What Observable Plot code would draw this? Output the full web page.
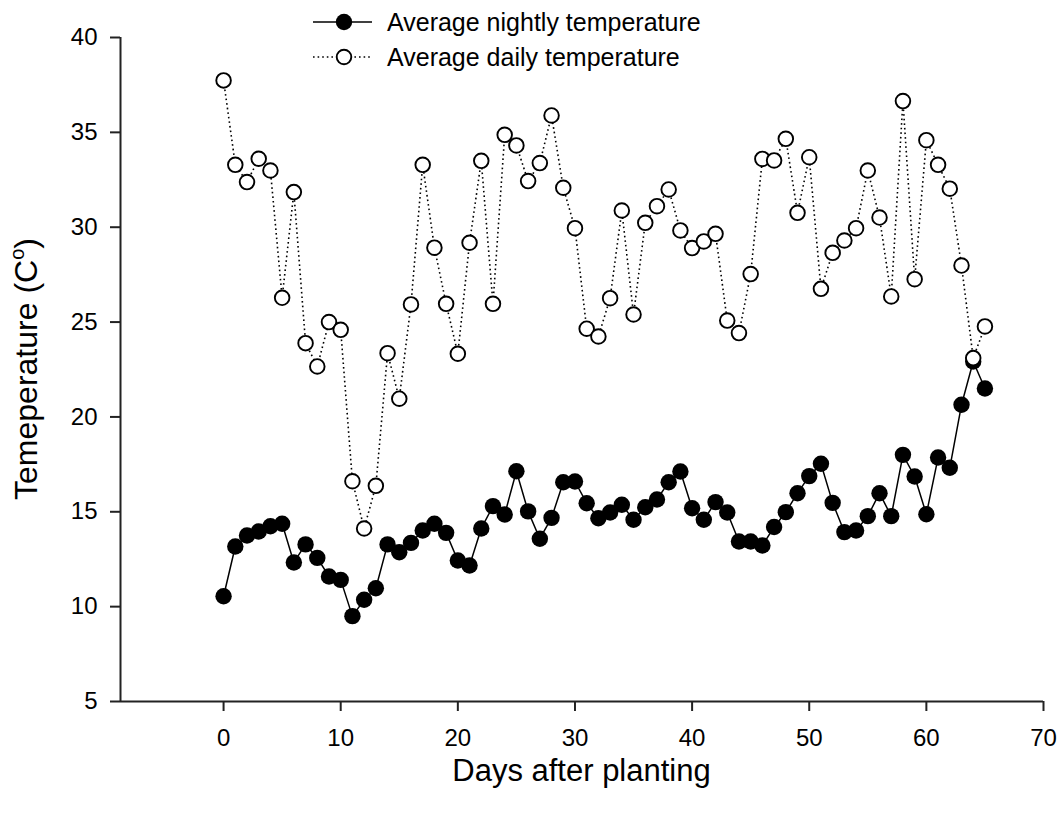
<!DOCTYPE html>
<html>
<head>
<meta charset="utf-8">
<script src="https://cdn.jsdelivr.net/npm/d3@7"></script>
<script src="https://cdn.jsdelivr.net/npm/@observablehq/plot@0.6"></script>
<style>
  html, body { margin: 0; padding: 0; background: #fff; }
  #chart { position: relative; width: 1058px; height: 813px; }
</style>
</head>
<body>
<div id="chart"></div>
<script>
// Days after planting
const days = [0, 1, 2, 3, 4, 5, 6, 7, 8, 9, 10, 11, 12, 13, 14, 15, 16, 17, 18, 19, 20,
  21, 22, 23, 24, 25, 26, 27, 28, 29, 30, 31, 32, 33, 34, 35, 36, 37, 38, 39, 40,
  41, 42, 43, 44, 45, 46, 47, 48, 49, 50, 51, 52, 53, 54, 55, 56, 57, 58, 59, 60,
  61, 62, 63, 64, 65];

// Average nightly temperature (°C)
const nightly = [10.55, 13.17, 13.75, 13.96, 14.24, 14.37, 12.33, 13.28, 12.57, 11.59, 11.41,
  9.5, 10.36, 10.97, 13.28, 12.87, 13.36, 14.01, 14.37, 13.89, 12.43,
  12.17, 14.12, 15.3, 14.86, 17.14, 15.02, 13.58, 14.68, 16.56, 16.6,
  15.45, 14.66, 14.96, 15.37, 14.58, 15.24, 15.65, 16.56, 17.12, 15.19,
  14.58, 15.51, 14.96, 13.43, 13.43, 13.22, 14.2, 14.98, 15.98, 16.88,
  17.53, 15.47, 13.93, 14.01, 14.77, 15.98, 14.77, 18.0, 16.86, 14.87,
  17.86, 17.32, 20.64, 22.92, 21.5];

// Average daily temperature (°C)
const daily = [37.74, 33.29, 32.38, 33.61, 32.99, 26.28, 31.85, 23.89, 22.66, 25.0, 24.59,
  16.61, 14.12, 16.37, 23.36, 20.96, 25.93, 33.29, 28.92, 25.96, 23.33,
  29.18, 33.5, 25.96, 34.87, 34.31, 32.43, 33.38, 35.89, 32.08, 29.95,
  24.65, 24.24, 26.26, 30.88, 25.4, 30.23, 31.11, 31.99, 29.83, 28.9,
  29.25, 29.65, 25.08, 24.42, 27.53, 33.6, 33.52, 34.66, 30.76, 33.69,
  26.75, 28.65, 29.3, 29.95, 32.99, 30.51, 26.35, 36.65, 27.26, 34.59,
  33.29, 32.03, 27.98, 23.1, 24.77];

const xTicks = [0, 10, 20, 30, 40, 50, 60, 70];
const yTicks = [5, 10, 15, 20, 25, 30, 35, 40];

const seriesNames = ["Average nightly temperature", "Average daily temperature"];
const xTitle = "Days after planting";
const yTitle = "Temeperature (C";

const nightRows = days.map((d, i) => ({day: d, temp: nightly[i]}));
const dayRows = days.map((d, i) => ({day: d, temp: daily[i]}));

const FONT = "'Liberation Sans', Arial, Helvetica, sans-serif";
const xDomain = [-8.8, 70];
const yDomain = [5, 40];

const chart = Plot.plot({
  width: 1058,
  height: 813,
  marginLeft: 120,
  marginRight: 15,
  marginTop: 37,
  marginBottom: 112,
  style: {fontFamily: FONT, fontSize: "24px", background: "#fff", color: "#000", overflow: "visible"},
  x: {domain: xDomain},
  y: {domain: yDomain},
  marks: [
    // axis lines
    Plot.ruleY([yDomain[0]], {stroke: "#222", strokeWidth: 2}),
    Plot.ruleX([xDomain[0]], {y1: yDomain[0], y2: yDomain[1], stroke: "#222", strokeWidth: 2}),
    Plot.axisX({ticks: xTicks, tickSize: 10, tickPadding: 17, strokeWidth: 2, stroke: "#222",
      fontSize: 24, fill: "#000", label: null}),
    Plot.axisY({ticks: yTicks, tickSize: 10, tickPadding: 13, strokeWidth: 2, stroke: "#222",
      fontSize: 24, fill: "#000", label: null}),
    // nightly: solid line, filled circles
    Plot.line(nightRows, {x: "day", y: "temp", stroke: "#000", strokeWidth: 1.5}),
    Plot.dot(nightRows, {x: "day", y: "temp", r: 8.2, fill: "#000", stroke: "none"}),
    // daily: dotted line, open circles
    Plot.line(dayRows, {x: "day", y: "temp", stroke: "#000", strokeWidth: 1.6,
      strokeDasharray: "1.6,3", strokeLinecap: "butt"}),
    Plot.dot(dayRows, {x: "day", y: "temp", r: 7.3, fill: "#fff", stroke: "#000", strokeWidth: 1.9})
  ]
});

document.getElementById("chart").appendChild(chart);

// Axis titles and legend
const svg = d3.select(chart);
const xs = chart.scale("x").range;
const ys = chart.scale("y").range;

svg.append("text")
  .attr("x", (xs[0] + xs[1]) / 2)
  .attr("y", ys[0] + 80)
  .attr("text-anchor", "middle")
  .attr("font-family", FONT)
  .attr("font-size", 31)
  .attr("fill", "#000")
  .text(xTitle);

const yt = svg.append("text")
  .attr("transform", `translate(37,${(ys[0] + ys[1]) / 2}) rotate(-90)`)
  .attr("text-anchor", "middle")
  .attr("font-family", FONT)
  .attr("font-size", 32)
  .attr("fill", "#000");
yt.append("tspan").text(yTitle);
yt.append("tspan").attr("font-size", 20).attr("dy", -13).text("o");
yt.append("tspan").attr("dy", 13).text(")");

const legend = svg.append("g")
  .attr("font-family", FONT)
  .attr("font-size", 25)
  .attr("text-anchor", "start")
  .attr("fill", "#000");
const rowsY = [22, 57];
// nightly entry
legend.append("line").attr("x1", 313).attr("x2", 372).attr("y1", rowsY[0]).attr("y2", rowsY[0])
  .attr("stroke", "#000").attr("stroke-width", 1.5);
legend.append("circle").attr("cx", 344).attr("cy", rowsY[0]).attr("r", 8.2).attr("fill", "#000");
legend.append("text").attr("x", 387).attr("y", rowsY[0]).attr("dy", "0.35em").text(seriesNames[0]);
// daily entry
legend.append("line").attr("x1", 313).attr("x2", 372).attr("y1", rowsY[1]).attr("y2", rowsY[1])
  .attr("stroke", "#000").attr("stroke-width", 1.6).attr("stroke-dasharray", "1.6,3");
legend.append("circle").attr("cx", 344).attr("cy", rowsY[1]).attr("r", 7.3)
  .attr("fill", "#fff").attr("stroke", "#000").attr("stroke-width", 1.9);
legend.append("text").attr("x", 387).attr("y", rowsY[1]).attr("dy", "0.35em").text(seriesNames[1]);
</script>
</body>
</html>
